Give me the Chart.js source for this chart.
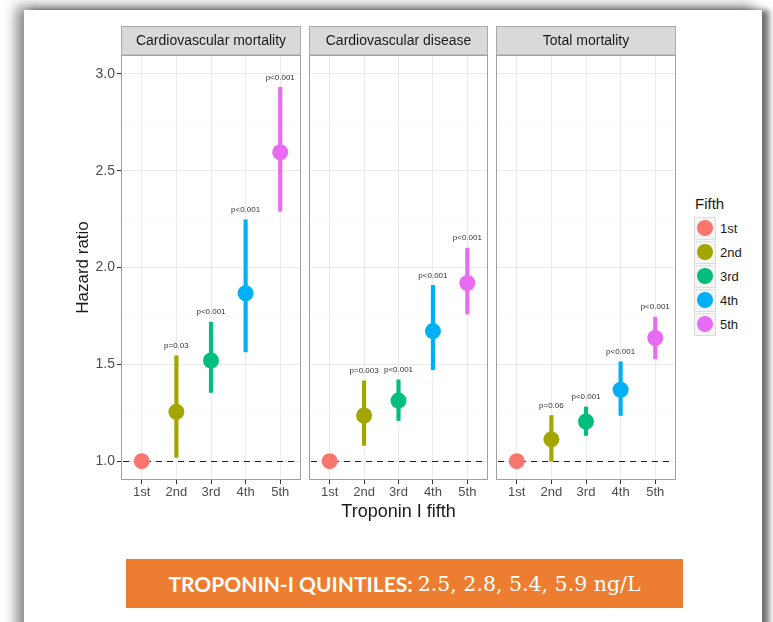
<!DOCTYPE html>
<html>
<head>
<meta charset="utf-8">
<script src="https://cdn.jsdelivr.net/npm/chart.js@4.4.0/dist/chart.umd.min.js"></script>
<style>
  html, body { margin: 0; padding: 0; background: #fff; overflow: hidden; }
  body { width: 773px; height: 622px; position: relative; font-family: "Liberation Sans", Arial, sans-serif; }
  #frame { position: absolute; left: 24px; top: 10px; width: 738px; height: 700px; background: #fff;
           box-shadow: -8px -4px 12px rgba(0,0,0,0.45), 7px 0 6px rgba(0,0,0,0.55); }
  .panel { position: absolute; top: 24px; height: 500px; }
  #legend { position: absolute; left: 694px; top: 195px; color: #1a1a1a; }
  #legend .ttl { font-size: 15px; margin: 0 0 4px 1px; }
  #legend .row { display: flex; align-items: center; height: 24px; }
  #legend .key { width: 22px; height: 23px; border: 1px solid #ddd; background: #f4f4f4; box-sizing: border-box;
                 display: flex; align-items: center; justify-content: center; }
  #legend .dot { width: 16px; height: 16px; border-radius: 50%; }
  #legend .lab { font-size: 13px; margin-left: 4px; }
  #banner { position: absolute; left: 126px; top: 559px; width: 557px; height: 49px; background: #ED7D31;
            color: #fff; display: flex; align-items: center; justify-content: center; white-space: nowrap; }
  #banner b { font-family: Lato, "Open Sans", sans-serif; font-weight: 700; font-size: 21px; }
  #banner span { font-family: "DejaVu Serif", serif; font-size: 20.5px; margin-left: 5px; }
</style>
</head>
<body>
<div id="frame"></div>
<canvas id="c1" class="panel" style="left:66px;width:237px"></canvas>
<canvas id="c2" class="panel" style="left:305px;width:188px"></canvas>
<canvas id="c3" class="panel" style="left:492px;width:188px"></canvas>
<div id="legend"></div>
<div id="banner"><b>TROPONIN-I QUINTILES:</b><span>2.5, 2.8, 5.4, 5.9 ng/L</span></div>
<script>
// data
const categories = ["1st", "2nd", "3rd", "4th", "5th"];
const colors = ["#F8766D", "#A3A500", "#00BF7D", "#00B0F6", "#E76BF3"];
const yTicks = [1.0, 1.5, 2.0, 2.5, 3.0];
const yMinor = [1.25, 1.75, 2.25, 2.75];

const outcomes = ["Cardiovascular mortality", "Cardiovascular disease", "Total mortality"];

const cvMortHR   = [1.0, 1.255, 1.52, 1.867, 2.595];
const cvMortLow  = [null, 1.02, 1.355, 1.564, 2.29];
const cvMortHigh = [null, 1.544, 1.718, 2.246, 2.93];
const cvMortP    = ["", "p=0.03", "p<0.001", "p<0.001", "p<0.001"];

const cvdHR   = [1.0, 1.236, 1.313, 1.672, 1.92];
const cvdLow  = [null, 1.082, 1.21, 1.472, 1.76];
const cvdHigh = [null, 1.415, 1.42, 1.908, 2.10];
const cvdP    = ["", "p=0.003", "p<0.001", "p<0.001", "p<0.001"];

const totHR   = [1.0, 1.113, 1.205, 1.369, 1.636];
const totLow  = [null, 1.0, 1.133, 1.236, 1.528];
const totHigh = [null, 1.236, 1.28, 1.513, 1.744];
const totP    = ["", "p=0.06", "p<0.001", "p<0.001", "p<0.001"];

const FONT = "'Liberation Sans', Arial, sans-serif";

// strip header, panel border, reference line and p labels
const facetPlugin = {
  id: 'facet',
  beforeDraw(chart) {
    const a = chart.chartArea, ctx = chart.ctx;
    ctx.save();
    ctx.fillStyle = '#D9D9D9';
    ctx.fillRect(a.left, 2, a.right - a.left, a.top - 2);
    ctx.strokeStyle = '#AAAAAA';
    ctx.lineWidth = 1;
    ctx.strokeRect(a.left + 0.5, 2.5, a.right - a.left - 1, a.top - 2.5);
    ctx.fillStyle = '#1a1a1a';
    ctx.font = '14px ' + FONT;
    ctx.textAlign = 'center';
    ctx.textBaseline = 'middle';
    ctx.fillText(chart.options.plugins.facet.title, (a.left + a.right) / 2, (a.top + 2) / 2 + 1);
    ctx.restore();
  },
  beforeDatasetsDraw(chart) {
    const a = chart.chartArea, ctx = chart.ctx;
    const y = Math.round(chart.scales.y.getPixelForValue(1)) + 0.5;
    ctx.save();
    ctx.strokeStyle = '#222';
    ctx.lineWidth = 1.2;
    ctx.setLineDash([6, 5]);
    ctx.beginPath();
    ctx.moveTo(a.left + 2, y);
    ctx.lineTo(a.right - 2, y);
    ctx.stroke();
    ctx.restore();
  },
  afterDatasetsDraw(chart) {
    const o = chart.options.plugins.facet, ctx = chart.ctx;
    const xs = chart.scales.x, ys = chart.scales.y, a = chart.chartArea;
    ctx.save();
    ctx.fillStyle = '#333';
    ctx.font = '8px ' + FONT;
    ctx.textAlign = 'center';
    ctx.textBaseline = 'middle';
    o.labels.forEach((t, i) => {
      if (!t) return;
      ctx.fillText(t, xs.getPixelForValue(i + 1), ys.getPixelForValue(o.high[i]) - 10);
    });
    ctx.strokeStyle = '#A0A0A0';
    ctx.lineWidth = 1;
    ctx.strokeRect(a.left + 0.5, a.top + 0.5, a.right - a.left - 1, a.bottom - a.top - 1);
    ctx.restore();
  }
};

const padLeft = [0, 4, 4];
const padRight = [2, 5, 4];

function makePanel(id, idx, hr, low, high, pLabels) {
  const first = idx === 0;
  return new Chart(document.getElementById(id), {
    data: {
      datasets: [{
        type: 'scatter',
        order: 0,
        data: hr.map((v, i) => ({ x: i + 1, y: v })),
        backgroundColor: colors,
        pointRadius: 8,
        pointHoverRadius: 8,
        borderWidth: 0
      }, {
        type: 'bar',
        order: 1,
        data: hr.map((v, i) => ({ x: i + 1, y: low[i] === null ? null : [low[i], high[i]] })),
        backgroundColor: colors,
        barThickness: 3.5,
        borderWidth: 0
      }]
    },
    options: {
      responsive: false,
      animation: false,
      events: [],
      layout: { autoPadding: false, padding: { left: padLeft[idx], right: padRight[idx], top: 31, bottom: 0 } },
      plugins: {
        legend: { display: false },
        tooltip: { enabled: false },
        facet: { title: outcomes[idx], labels: pLabels, high: high }
      },
      scales: {
        x: {
          type: 'linear',
          offset: false,
          min: 0.4, max: 5.6,
          afterBuildTicks: s => { s.ticks = categories.map((c, i) => ({ value: i + 1 })); },
          afterFit: s => { s.height = 44; s.paddingLeft = 0; s.paddingRight = 0; },
          ticks: {
            callback: v => categories[v - 1],
            color: '#4D4D4D', font: { family: FONT, size: 13 }, padding: 1, maxRotation: 0
          },
          grid: { offset: false, color: '#EBEBEB', tickColor: '#333', tickLength: 4, lineWidth: 1 },
          border: { display: false },
          title: {
            display: idx === 1, text: 'Troponin I fifth', color: '#1a1a1a',
            font: { family: FONT, size: 18 }, padding: { top: 0, bottom: 1 }
          }
        },
        y: {
          type: 'linear',
          min: 0.903, max: 3.097,
          afterBuildTicks: s => {
            s.ticks = yTicks.map(v => ({ value: v })).concat(yMinor.map(v => ({ value: v, minor: true })));
          },
          afterFit: s => { s.width = first ? 55 : 0; s.paddingTop = 0; s.paddingBottom = 0; },
          ticks: {
            display: first,
            callback: v => yTicks.includes(v) ? v.toFixed(1) : '',
            color: '#4D4D4D', font: { family: FONT, size: 14 }, padding: 2
          },
          grid: {
            drawTicks: first,
            tickLength: 4,
            color: c => c.tick && c.tick.minor ? '#F4F4F4' : '#EBEBEB',
            tickColor: c => c.tick && c.tick.minor ? 'rgba(0,0,0,0)' : '#333',
            lineWidth: c => c.tick && c.tick.minor ? 0.6 : 1
          },
          border: { display: false },
          title: {
            display: first, text: 'Hazard ratio', color: '#1a1a1a',
            font: { family: FONT, size: 17 }, padding: { top: 7, bottom: 0 }
          }
        }
      }
    },
    plugins: [facetPlugin]
  });
}

document.querySelectorAll('canvas.panel').forEach(c => {
  c.width = parseInt(c.style.width); c.height = 500;
});

makePanel('c1', 0, cvMortHR, cvMortLow, cvMortHigh, cvMortP);
makePanel('c2', 1, cvdHR, cvdLow, cvdHigh, cvdP);
makePanel('c3', 2, totHR, totLow, totHigh, totP);

// legend
const lg = document.getElementById('legend');
lg.innerHTML = '<div class="ttl">Fifth</div>' + categories.map((c, i) =>
  '<div class="row"><div class="key"><div class="dot" style="background:' + colors[i] + '"></div></div>' +
  '<div class="lab">' + c + '</div></div>').join('');
</script>
</body>
</html>
